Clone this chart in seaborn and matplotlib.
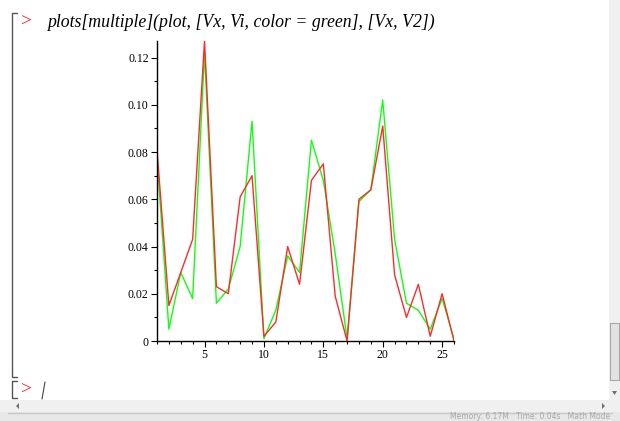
import numpy as np
import pandas as pd
import seaborn as sns
import matplotlib.pyplot as plt
from matplotlib.patches import Rectangle, Polygon
from matplotlib.ticker import MultipleLocator

#_______Data_______
Vx = list(range(1, 27))
Vi = [0.078, 0.005, 0.029, 0.018, 0.122, 0.016, 0.022, 0.040, 0.093, 0.001,
      0.013, 0.036, 0.029, 0.085, 0.068, 0.037, 0.001, 0.059, 0.064, 0.102,
      0.043, 0.016, 0.013, 0.005, 0.018, 0.001]
V2 = [0.081, 0.015, 0.029, 0.043, 0.127, 0.023, 0.020, 0.061, 0.070, 0.002,
      0.008, 0.040, 0.024, 0.068, 0.075, 0.019, 0.000, 0.060, 0.064, 0.091,
      0.028, 0.010, 0.024, 0.002, 0.020, 0.000]

df = pd.DataFrame({"x": Vx * 2, "y": Vi + V2,
                   "series": ["Vi"] * len(Vx) + ["V2"] * len(Vx)})

sns.set_theme(style="white")
plt.rcParams['font.family'] = ['Liberation Serif', 'DejaVu Serif']

fig = plt.figure(figsize=(6.2, 4.21), dpi=100)
fig.patch.set_facecolor("white")

#______Maple window chrome (pixel coords)______
gui = fig.add_axes([0, 0, 1, 1], zorder=0)
gui.set_xlim(0, 620)
gui.set_ylim(421, 0)
gui.axis("off")

# execution group brackets
gui.plot([17, 12, 12, 17], [13, 13, 377, 377], color="#555555", lw=1)
gui.plot([17, 12, 12, 17], [381, 381, 398, 398], color="#555555", lw=1)
gui.text(21, 22, ">", color="#ff2020", fontsize=14, va="center", ha="left")
gui.text(47, 22, "plots[multiple](plot, [Vx, Vi, color = green], [Vx, V2])",
         fontsize=12.8, style="italic", va="center", ha="left", color="black")
gui.text(21, 390, ">", color="#ff2020", fontsize=14, va="center", ha="left")
gui.plot([42, 45], [399, 382], color="#444444", lw=0.8)

# right scrollbar
gui.add_patch(Rectangle((609, 0), 11, 400, facecolor="#f0f0f0", edgecolor="none"))
gui.add_patch(Rectangle((610, 323), 9, 57, facecolor="#e2e2e2", edgecolor="#a8a8a8", lw=0.8))
gui.add_patch(Polygon([[612, 391], [617, 391], [614.5, 395]], closed=True,
                      facecolor="#707070", edgecolor="none"))
# horizontal scrollbar
gui.add_patch(Rectangle((0, 400), 620, 12, facecolor="#f0f0f0", edgecolor="none"))
gui.add_patch(Polygon([[16, 406], [19, 403], [19, 409]], closed=True,
                      facecolor="#707070", edgecolor="none"))
gui.add_patch(Polygon([[605, 406], [602, 403], [602, 409]], closed=True,
                      facecolor="#707070", edgecolor="none"))
# status bar
gui.add_patch(Rectangle((0, 412), 620, 9, facecolor="#e8e8e8", edgecolor="none"))
gui.plot([8, 612], [412.5, 412.5], color="#c8c8c8", lw=1)
gui.text(450, 421, "Memory: 6.17M   Time: 0.04s   Math Mode", fontsize=5.5,
         color="#a8a8a8", va="bottom", ha="left", family="DejaVu Sans")

#______Plot______
ax = fig.add_axes([157 / 620, 80 / 421, 297 / 620, 300 / 421], zorder=1)
ax.set_facecolor("none")
sns.lineplot(data=df, x="x", y="y", hue="series", hue_order=["Vi", "V2"],
             palette={"Vi": "#10ff10", "V2": "#ff2a2a"}, linewidth=1.0,
             legend=False, ax=ax)

ax.set_xlim(1, 26)
ax.set_ylim(0, max(V2))
ax.xaxis.set_major_locator(MultipleLocator(5))
ax.xaxis.set_minor_locator(MultipleLocator(1))
ax.yaxis.set_major_locator(MultipleLocator(0.02))
ax.yaxis.set_minor_locator(MultipleLocator(0.01))
ax.yaxis.set_major_formatter(lambda v, p: "0" if abs(v) < 1e-9 else f"{v:.2f}")
ax.tick_params(which="both", direction="out", colors="black", labelsize=8.5,
               bottom=True, left=True, pad=2)
ax.tick_params(which="major", length=4, width=0.8)
ax.tick_params(which="minor", length=2.5, width=0.8)
for s in ["top", "right"]:
    ax.spines[s].set_visible(False)
for s in ["left", "bottom"]:
    ax.spines[s].set_color("black")
    ax.spines[s].set_linewidth(1.0)
ax.set_xlabel("")
ax.set_ylabel("")

plt.savefig("out.png", dpi=100)
